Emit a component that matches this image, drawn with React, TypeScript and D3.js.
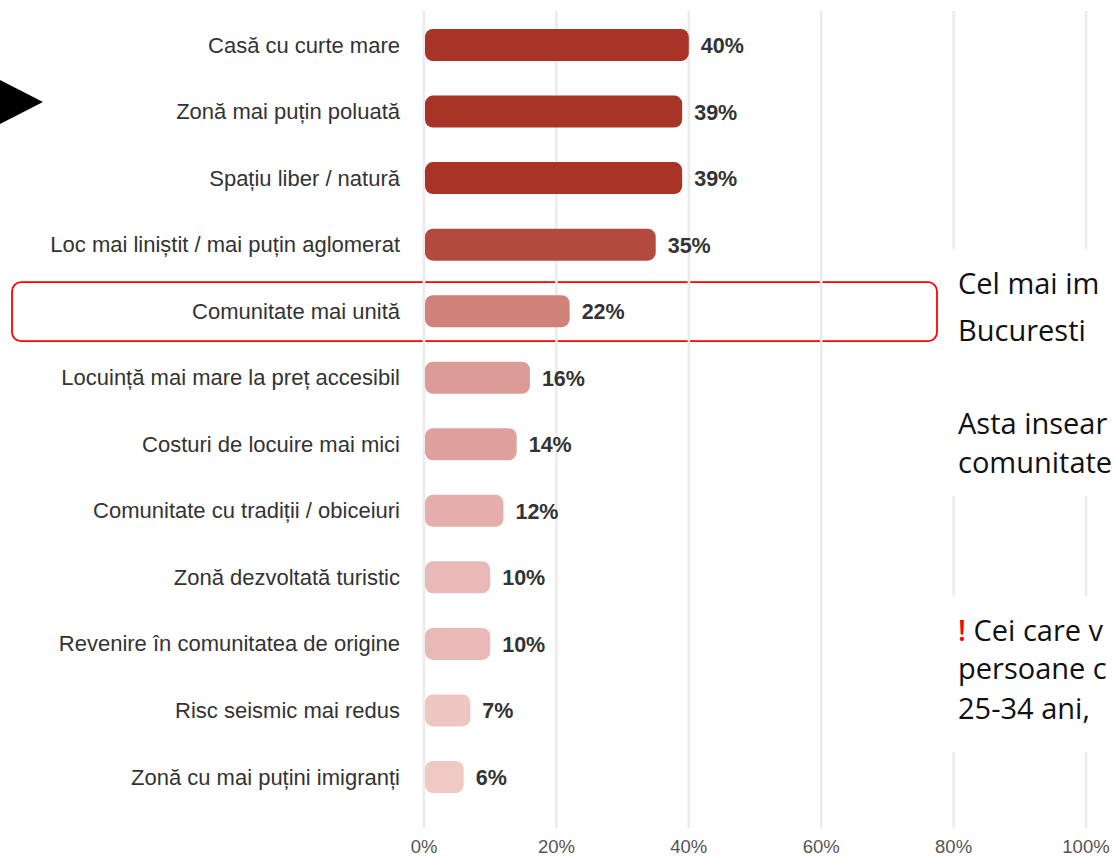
import * as d3 from "d3";
import { useEffect, useRef } from "react";

const categories = [
  "Casă cu curte mare",
  "Zonă mai puțin poluată",
  "Spațiu liber / natură",
  "Loc mai liniștit / mai puțin aglomerat",
  "Comunitate mai unită",
  "Locuință mai mare la preț accesibil",
  "Costuri de locuire mai mici",
  "Comunitate cu tradiții / obiceiuri",
  "Zonă dezvoltată turistic",
  "Revenire în comunitatea de origine",
  "Risc seismic mai redus",
  "Zonă cu mai puțini imigranți",
];

const values = [40, 39, 39, 35, 22, 16, 14, 12, 10, 10, 7, 6];

const barColors = [
  "#a83428", "#a83428", "#a83428", "#b34a3e", "#d0827a", "#db9b96",
  "#dea19e", "#e3aeab", "#e8b9b6", "#e8b9b6", "#efc6c2", "#f0c9c5",
];

const ticks = [0, 20, 40, 60, 80, 100];

const noteBlock1 = ["Cel mai im", "Bucuresti"];
const noteBlock2 = ["Asta insear", "comunitate"];
const noteBlock3 = ["Cei care v", "persoane c", "25-34 ani,"];

export default function App() {
  const ref = useRef<SVGSVGElement>(null);

  useEffect(() => {
    const width = 1115,
      height = 856;

    const svg = d3.select(ref.current);
    svg.selectAll("*").remove();
    svg.attr("width", width).attr("height", height);

    const x = d3.scaleLinear().domain([0, 100]).range([424, 1086]);
    const y = d3.scalePoint().domain(categories).range([45, 777]);
    const barH = 32;

    // highlight box around "Comunitate mai unită"
    svg
      .append("rect")
      .attr("x", 12)
      .attr("y", y(categories[4]) - 29)
      .attr("width", 925)
      .attr("height", 59)
      .attr("rx", 9)
      .attr("fill", "none")
      .attr("stroke", "#ff0000")
      .attr("stroke-width", 1.8);

    // gridlines
    svg
      .selectAll("line.grid")
      .data(ticks)
      .enter()
      .append("line")
      .attr("class", "grid")
      .attr("x1", (d) => x(d))
      .attr("x2", (d) => x(d))
      .attr("y1", 11)
      .attr("y2", 828)
      .attr("stroke", "#ebebeb")
      .attr("stroke-width", 2.5);

    // white boxes behind the side notes
    svg.append("rect").attr("x", 942).attr("y", 249).attr("width", 180).attr("height", 247).attr("fill", "#fff");
    svg.append("rect").attr("x", 942).attr("y", 596).attr("width", 180).attr("height", 156).attr("fill", "#fff");

    // axis labels
    svg
      .selectAll("text.tick")
      .data(ticks)
      .enter()
      .append("text")
      .attr("class", "tick")
      .attr("x", (d) => x(d))
      .attr("y", 853)
      .attr("text-anchor", "middle")
      .attr("font-family", "Liberation Sans, Arial, sans-serif")
      .attr("font-size", 18.5)
      .attr("fill", "#555")
      .text((d) => d + "%");

    // bars
    svg
      .selectAll("rect.bar")
      .data(values)
      .enter()
      .append("rect")
      .attr("class", "bar")
      .attr("x", x(0) + 1)
      .attr("y", (d, i) => y(categories[i]) - barH / 2)
      .attr("width", (d) => x(d) - x(0) - 1)
      .attr("height", barH)
      .attr("rx", 8)
      .attr("fill", (d, i) => barColors[i]);

    // category labels
    svg
      .selectAll("text.cat")
      .data(categories)
      .enter()
      .append("text")
      .attr("class", "cat")
      .attr("x", 400)
      .attr("y", (d) => y(d) + 7.5)
      .attr("text-anchor", "end")
      .attr("font-family", "Liberation Sans, Arial, sans-serif")
      .attr("font-size", 22)
      .attr("fill", "#333")
      .text((d) => d);

    // value labels
    svg
      .selectAll("text.val")
      .data(values)
      .enter()
      .append("text")
      .attr("class", "val")
      .attr("x", (d) => x(d) + 12)
      .attr("y", (d, i) => y(categories[i]) + 8)
      .attr("font-family", "Liberation Sans, Arial, sans-serif")
      .attr("font-weight", "bold")
      .attr("font-size", 21.5)
      .attr("fill", "#333")
      .text((d) => d + "%");

    // arrow
    svg.append("path").attr("d", "M0,80 L43,102 L0,124 Z").attr("fill", "#000");

    // side notes
    const note = (lines, baselines) => {
      lines.forEach((t, i) => {
        svg
          .append("text")
          .attr("x", 958)
          .attr("y", baselines[i])
          .attr("font-family", "Open Sans, sans-serif")
          .attr("font-weight", 400)
          .attr("font-size", 29)
          .attr("fill", "#111")
          .text(t);
      });
    };
    note(noteBlock1, [294, 341]);
    note(noteBlock2, [434, 473]);

    noteBlock3.forEach((t, i) => {
      const txt = svg
        .append("text")
        .attr("x", 958)
        .attr("y", [641, 679, 719][i])
        .attr("font-family", "Open Sans, sans-serif")
        .attr("font-weight", 400)
        .attr("font-size", 29)
        .attr("fill", "#111");
      if (i === 0) {
        txt.append("tspan").attr("fill", "#ff0000").attr("font-weight", 600).text("! ");
      }
      txt.append("tspan").text(t);
    });
  }, []);

  return (
    <div style={{ position: "absolute", left: 0, top: 0 }}>
      <svg ref={ref} style={{ display: "block" }}></svg>
    </div>
  );
}
